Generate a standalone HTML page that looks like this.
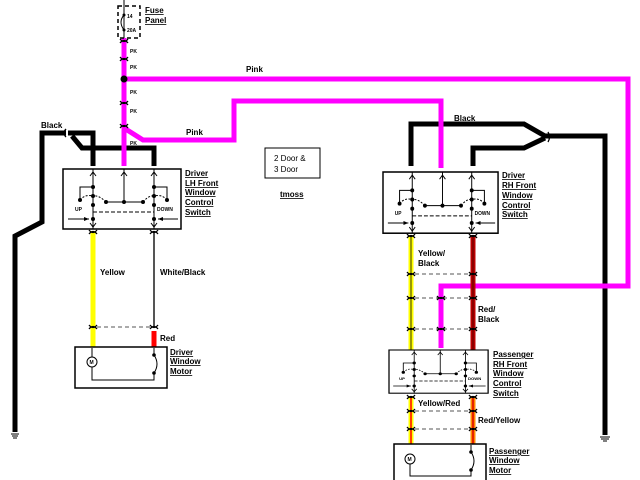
<!DOCTYPE html>
<html><head><meta charset="utf-8"><style>
html,body{margin:0;padding:0;background:#fff;}
svg{display:block;}
text{font-family:"Liberation Sans",sans-serif;font-weight:bold;fill:#000;}
.l{font-size:8px;}
.u{text-decoration:underline;font-size:8px;}
</style></head><body>
<svg width="640" height="480" viewBox="0 0 640 480" xmlns="http://www.w3.org/2000/svg">
<defs>
<g id="sw">
 <rect x="0" y="0" width="118" height="60" fill="#fff" stroke="#000" stroke-width="1.5"/>
 <g stroke="#000" stroke-width="1" fill="none">
  <line x1="30" y1="0" x2="30" y2="60"/>
  <line x1="91" y1="0" x2="91" y2="60"/>
  <line x1="61" y1="0" x2="61" y2="33"/>
  <polyline points="30,18 17,18 17,31"/>
  <polyline points="91,18 104,18 104,31"/>
  <line x1="43" y1="33" x2="80" y2="33"/>
  <path d="M17,31 Q22,25 30,27 M43,33 Q36,26 30,27 M104,31 Q99,25 91,27 M80,33 Q86,26 91,27" stroke-dasharray="2,1.5"/>
  <line x1="30" y1="43" x2="91" y2="43" stroke-dasharray="4,2"/>
  <line x1="5" y1="50" x2="26" y2="50"/>
  <line x1="115" y1="50" x2="95" y2="50"/>
  <path d="M27,7 L30,3 L33,7 M58,7 L61,3 L64,7 M88,7 L91,3 L94,7 M27,54 L30,58 L33,54 M88,54 L91,58 L94,54"/>
 </g>
 <path d="M26,50 l-5,-2 v4z M95,50 l5,-2 v4z" fill="#000"/>
 <g fill="#000">
  <circle cx="30" cy="18" r="2"/><circle cx="30" cy="27" r="2"/><circle cx="30" cy="36" r="2"/><circle cx="30" cy="50" r="2"/>
  <circle cx="91" cy="18" r="2"/><circle cx="91" cy="27" r="2"/><circle cx="91" cy="36" r="2"/><circle cx="91" cy="50" r="2"/>
  <circle cx="17" cy="31" r="2"/><circle cx="104" cy="31" r="2"/>
  <circle cx="43" cy="33" r="2"/><circle cx="61" cy="33" r="2"/><circle cx="80" cy="33" r="2"/>
 </g>
 <text x="12" y="42" style="font-size:5px">UP</text>
 <text x="94" y="42" style="font-size:5px">DOWN</text>
</g>
<g id="conn"><path d="M-4,-2 Q0,3 4,-2 M-4,2 Q0,-3 4,2" stroke="#000" stroke-width="1.3" fill="none"/></g>
</defs>

<polyline points="66,133 42,133 42,222 15,236 15,432" fill="none" stroke="#000" stroke-width="5"/>
<polyline points="68,133 93,133 93,166" fill="none" stroke="#000" stroke-width="5"/>
<polyline points="72,136 82,148 154,148 154,166" fill="none" stroke="#000" stroke-width="5"/>
<path d="M11,434 h8 M12,436 h6 M13,438 h4" stroke="#000" stroke-width="1"/>
<path d="M66,129 Q62,133 66,137" stroke="#000" stroke-width="1.3" fill="none"/>

<polyline points="411,166 411,124 524,124 545,136 605,136 605,435" fill="none" stroke="#000" stroke-width="5"/>
<polyline points="473,166 473,148 524,148 545,138" fill="none" stroke="#000" stroke-width="5"/>
<path d="M600,437 h10 M601,439 h8 M603,441 h4" stroke="#000" stroke-width="1"/>
<path d="M548,132 Q551,137 548,142" stroke="#000" stroke-width="1.3" fill="none"/>

<line x1="124" y1="38" x2="124" y2="166" stroke="#f0f" stroke-width="5"/>
<polyline points="124,79 628,79 628,286 441,286 441,348" fill="none" stroke="#f0f" stroke-width="5"/>
<polyline points="124,128 143,140 234,140 234,101 441,101 441,168" fill="none" stroke="#f0f" stroke-width="5"/>
<circle cx="124" cy="79" r="3.5" fill="#000"/>

<rect x="118" y="6" width="22" height="32" fill="none" stroke="#000" stroke-width="1.5" stroke-dasharray="4,3"/>
<line x1="124" y1="0" x2="124" y2="38" stroke="#000" stroke-width="1"/>
<path d="M124,15 Q118,22 124,30" stroke="#000" fill="none"/>
<circle cx="124" cy="15" r="1.5"/><circle cx="124" cy="30" r="1.5"/>
<text x="127" y="18" style="font-size:5px">14</text>
<text x="127" y="32" style="font-size:5px">20A</text>
<text x="145" y="13" class="u">Fuse</text>
<text x="145" y="23" class="u">Panel</text>
<use href="#conn" x="124" y="41"/><use href="#conn" x="124" y="59"/><use href="#conn" x="124" y="103"/><use href="#conn" x="124" y="126"/>
<text x="130" y="53" style="font-size:5px">PK</text>
<text x="130" y="69" style="font-size:5px">PK</text>
<text x="130" y="94" style="font-size:5px">PK</text>
<text x="130" y="113" style="font-size:5px">PK</text>
<text x="130" y="145" style="font-size:5px">PK</text>

<text x="246" y="72" class="l">Pink</text>
<text x="186" y="135" class="l">Pink</text>
<text x="41" y="128" class="l">Black</text>
<text x="454" y="121" class="l">Black</text>

<rect x="265" y="148" width="55" height="30" fill="#fff" stroke="#000" stroke-width="1"/>
<text x="274" y="161" style="font-size:8px;font-weight:normal">2 Door &amp;</text>
<text x="274" y="172" style="font-size:8px;font-weight:normal">3 Door</text>
<text x="280" y="197" class="u">tmoss</text>

<use href="#sw" x="63" y="169"/>
<text x="185" y="176" class="u">Driver</text>
<text x="185" y="186" class="u">LH Front</text>
<text x="185" y="195" class="u">Window</text>
<text x="185" y="205" class="u">Control</text>
<text x="185" y="215" class="u">Switch</text>
<line x1="93" y1="231" x2="93" y2="348" stroke="#ff0" stroke-width="5"/>
<line x1="154" y1="231" x2="154" y2="327" stroke="#555" stroke-width="2"/>
<line x1="154" y1="331" x2="154" y2="348" stroke="#f00" stroke-width="5"/>
<line x1="97" y1="327" x2="150" y2="327" stroke="#555" stroke-dasharray="4,3"/>
<use href="#conn" x="93" y="232"/><use href="#conn" x="154" y="232"/>
<use href="#conn" x="93" y="327"/><use href="#conn" x="154" y="327"/>
<text x="100" y="275" class="l">Yellow</text>
<text x="160" y="275" class="l">White/Black</text>
<text x="160" y="341" class="l">Red</text>
<rect x="75" y="347" width="92" height="41" fill="#fff" stroke="#000" stroke-width="1.5"/>
<circle cx="92" cy="362" r="5" fill="#fff" stroke="#000"/>
<text x="89.5" y="364" style="font-size:5px">M</text>
<line x1="92" y1="348" x2="92" y2="357" stroke="#000"/>
<polyline points="92,367 92,380 154,380 154,373" fill="none" stroke="#000"/>
<line x1="154" y1="348" x2="154" y2="355" stroke="#000"/>
<path d="M154,355 Q160,364 154,373" fill="none" stroke="#000"/>
<circle cx="154" cy="355" r="1.8"/><circle cx="154" cy="373" r="1.8"/>
<text x="170" y="355" class="u">Driver</text>
<text x="170" y="364" class="u">Window</text>
<text x="170" y="374" class="u">Motor</text>

<use href="#sw" transform="translate(383,172) scale(0.975,1.02)"/>
<text x="502" y="178" class="u">Driver</text>
<text x="502" y="188" class="u">RH Front</text>
<text x="502" y="198" class="u">Window</text>
<text x="502" y="208" class="u">Control</text>
<text x="502" y="217" class="u">Switch</text>
<line x1="411" y1="235" x2="411" y2="350" stroke="#ff0" stroke-width="5"/>
<line x1="411" y1="235" x2="411" y2="350" stroke="#000" stroke-width="0.8"/>
<line x1="473" y1="235" x2="473" y2="350" stroke="#b00" stroke-width="5"/>
<line x1="473" y1="235" x2="473" y2="350" stroke="#400" stroke-width="0.8"/>
<g stroke="#555" stroke-dasharray="4,3">
<line x1="415" y1="274" x2="469" y2="274"/>
<line x1="415" y1="298" x2="469" y2="298"/>
<line x1="415" y1="329" x2="469" y2="329"/>
</g>
<use href="#conn" x="411" y="236"/><use href="#conn" x="473" y="236"/>
<use href="#conn" x="411" y="274"/><use href="#conn" x="473" y="274"/>
<use href="#conn" x="411" y="298"/><use href="#conn" x="441" y="298"/><use href="#conn" x="473" y="298"/>
<use href="#conn" x="411" y="329"/><use href="#conn" x="441" y="329"/><use href="#conn" x="473" y="329"/>
<text x="418" y="256" class="l">Yellow/</text>
<text x="418" y="266" class="l">Black</text>
<text x="478" y="312" class="l">Red/</text>
<text x="478" y="322" class="l">Black</text>

<use href="#sw" transform="translate(389,350) scale(0.84,0.72)"/>
<text x="493" y="357" class="u">Passenger</text>
<text x="493" y="367" class="u">RH Front</text>
<text x="493" y="376" class="u">Window</text>
<text x="493" y="386" class="u">Control</text>
<text x="493" y="396" class="u">Switch</text>
<line x1="411" y1="396" x2="411" y2="445" stroke="#ff0" stroke-width="5"/>
<line x1="411" y1="396" x2="411" y2="445" stroke="#f00" stroke-width="1.5"/>
<line x1="473" y1="396" x2="473" y2="445" stroke="#f80" stroke-width="5"/>
<line x1="473" y1="396" x2="473" y2="445" stroke="#d00" stroke-width="1.5"/>
<g stroke="#555" stroke-dasharray="4,3">
<line x1="415" y1="411" x2="469" y2="411"/>
<line x1="415" y1="429" x2="469" y2="429"/>
</g>
<use href="#conn" x="411" y="397"/><use href="#conn" x="473" y="397"/>
<use href="#conn" x="411" y="411"/><use href="#conn" x="473" y="411"/>
<use href="#conn" x="411" y="429"/><use href="#conn" x="473" y="429"/>
<text x="418" y="406" class="l">Yellow/Red</text>
<text x="478" y="423" class="l">Red/Yellow</text>

<rect x="394" y="444" width="92" height="40" fill="#fff" stroke="#000" stroke-width="1.5"/>
<circle cx="410" cy="459" r="5" fill="#fff" stroke="#000"/>
<text x="407.5" y="461" style="font-size:5px">M</text>
<polyline points="410,464 410,476 471,476 471,470" fill="none" stroke="#000"/>
<line x1="471" y1="445" x2="471" y2="452" stroke="#000"/>
<path d="M471,452 Q477,461 471,470" fill="none" stroke="#000"/>
<circle cx="471" cy="452" r="1.8"/><circle cx="471" cy="470" r="1.8"/>
<text x="489" y="454" class="u">Passenger</text>
<text x="489" y="463" class="u">Window</text>
<text x="489" y="473" class="u">Motor</text>
</svg>
</body></html>
